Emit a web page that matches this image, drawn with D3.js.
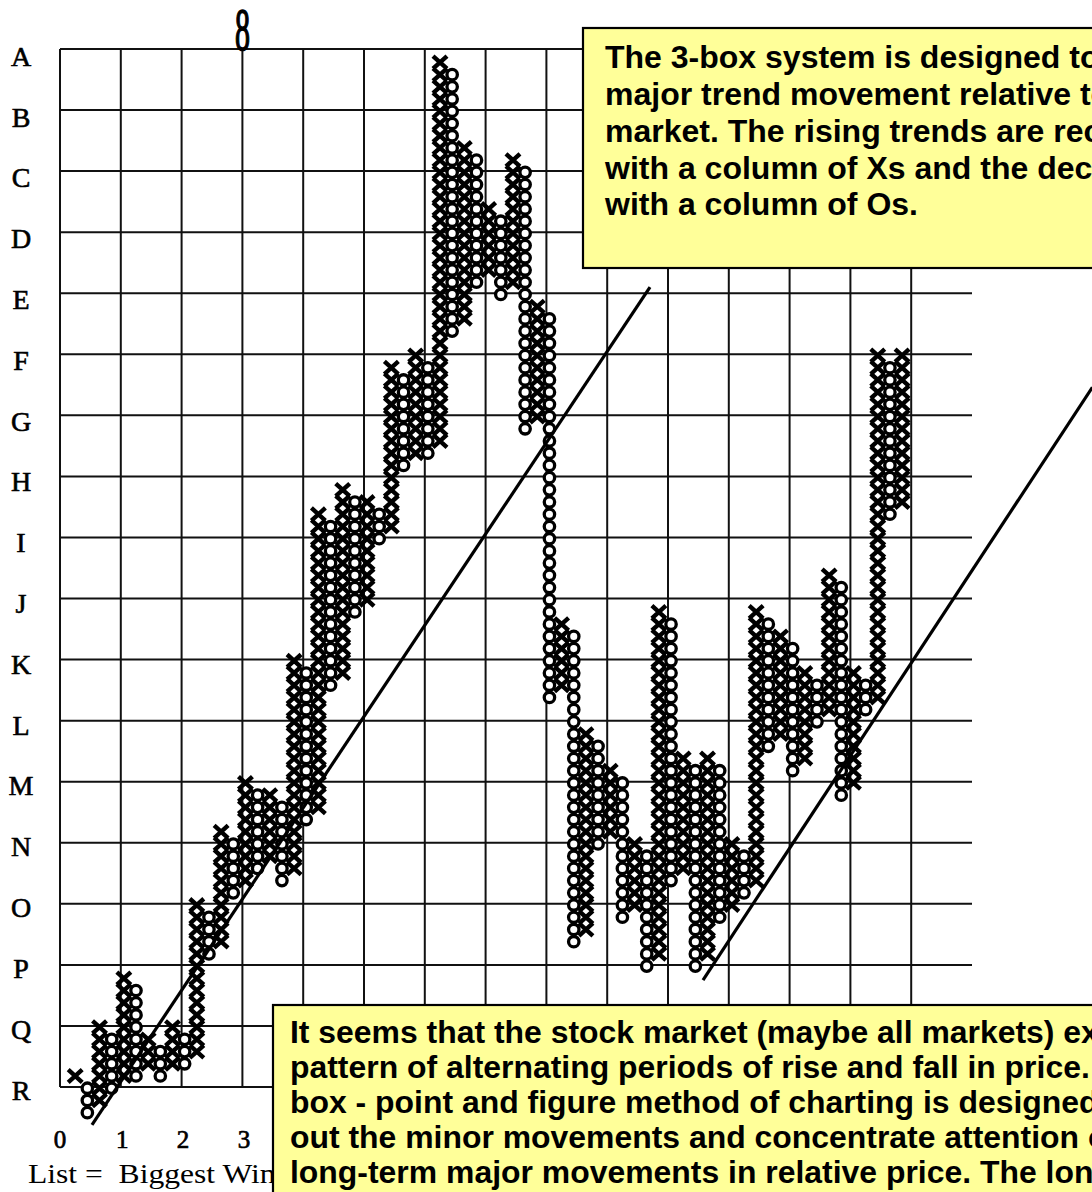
<!DOCTYPE html>
<html><head><meta charset="utf-8">
<script src="https://cdn.jsdelivr.net/npm/d3@7"></script>
<style>body{margin:0;background:#fff}svg{display:block}</style>
</head><body>
<svg id="c" width="1092" height="1192"></svg>
<script>
// ---------- data ----------
const rowLabels = ["A","B","C","D","E","F","G","H","I","J","K","L","M","N","O","P","Q","R"];
const colLabels = ["0","1","2","3"];
const topMark = "8";
const listLabel = "List =  Biggest Winners";
const firstColumn = 1;
const colTypes = ["X","O","X","O","X","O","X","O","X","O","X","O","X","O","X","O","X","O","X","O",
  "X","O","X","O","X","O","X","O","X","O","X","O","X","O","X","O","X","O","X","O",
  "X","O","X","O","X","O","X","O","X","O","X","O","X","O","X","O","X","O","X","O",
  "X","O","X","O","X","O","X","O","X"];
const colTops = [0,-1,4,3,8,7,3,2,4,3,14,13,20,19,24,23,23,22,34,33,
  46,45,48,47,47,46,58,57,59,58,83,82,76,75,71,70,75,74,63,62,
  37,36,28,27,25,24,19,18,38,37,26,25,26,25,19,18,38,37,36,35,
  33,32,41,40,33,32,59,58,59];
const colBottoms = [0,-3,-2,-1,0,0,1,0,1,1,2,10,11,15,16,17,18,16,17,21,
  22,32,33,38,39,44,45,50,51,51,52,61,62,65,66,64,65,53,54,31,
  32,11,12,19,20,13,14,9,10,16,17,9,10,13,14,15,16,27,28,25,
  26,29,30,23,24,30,31,46,47];
// trend lines in (column, box) units
const trendStartCol = [2.63, 52.88];
const trendStartBox = [-3.1, 8.76];
const trendEndCol = [48.52, 84.9];
const trendEndBox = [65.5, 57.3];
const topNote = ["The 3-box system is designed to show the",
  "major trend movement relative to the",
  "market. The rising trends are recorded",
  "with a column of Xs and the declines",
  "with a column of Os."];
const bottomNote = ["It seems that the stock market (maybe all markets) exhibits a",
  "pattern of alternating periods of rise and fall in price. The 3-",
  "box - point and figure method of charting is designed to filter",
  "out the minor movements and concentrate attention on the",
  "long-term major movements in relative price. The long-term",
  "movements are always present at the time the long-term"];

// ---------- scales ----------
const svg = d3.select("#c");
const x = d3.scaleLinear().domain([0, 70]).range([60, 60 + 70 * 12.16]);
const y = d3.scaleLinear().domain([0, 85]).range([1087, 49]);
const labelY = d3.scaleLinear().domain([0, 17]).range([56.2, 1090]);

const columns = colTypes.map((t, j) => ({i: firstColumn + j, type: t, top: colTops[j], bottom: colBottoms[j]}));
const cells = [];
columns.forEach(c => { for (let k = c.bottom; k <= c.top; k++) cells.push({i: c.i, k, type: c.type}); });

// ---------- grid ----------
const grid = svg.append("g").attr("stroke", "#111").attr("stroke-width", 2);
grid.selectAll("line.h").data(rowLabels).join("line").attr("class", "h")
  .attr("x1", x(0)).attr("x2", x(75))
  .attr("y1", (d, j) => y(85 - 5 * j)).attr("y2", (d, j) => y(85 - 5 * j));
grid.selectAll("line.v").data(d3.range(0, 71, 5)).join("line").attr("class", "v")
  .attr("x1", d => x(d)).attr("x2", d => x(d))
  .attr("y1", y(85)).attr("y2", y(0));

// ---------- labels ----------
svg.append("g").selectAll("text").data(rowLabels).join("text")
  .attr("x", 21).attr("y", (d, j) => labelY(j) + 9.5)
  .attr("text-anchor", "middle").attr("font-family", "Liberation Serif")
  .attr("font-size", 28).attr("stroke", "#000").attr("stroke-width", 0.6).text(d => d);

svg.append("g").selectAll("text").data(colLabels).join("text")
  .attr("x", (d, j) => x(5 * j) + (j ? 1.5 : 0)).attr("y", 1148)
  .attr("text-anchor", "middle").attr("font-family", "Liberation Serif")
  .attr("font-size", 25).attr("stroke", "#000").attr("stroke-width", 0.7).text(d => d);

svg.append("text").attr("transform", `translate(${x(15)},49.5) scale(1.2,2.42)`)
  .attr("text-anchor", "middle").attr("font-family", "Liberation Serif")
  .attr("font-size", 25).attr("stroke", "#000").attr("stroke-width", 0.7).text(topMark);

svg.append("text").attr("transform", "translate(28,1183) scale(1.17,1)")
  .attr("font-family", "Liberation Serif").attr("font-size", 27)
  .style("white-space", "pre").text(listLabel);

// ---------- symbols ----------
const sym = svg.append("g");
sym.selectAll("circle").data(cells.filter(c => c.type === "O")).join("circle")
  .attr("cx", d => x(d.i + 0.25)).attr("cy", d => y(d.k + 0.9)).attr("r", 5.2)
  .attr("fill", "#fff").attr("stroke", "#000").attr("stroke-width", 3.3);
sym.selectAll("path").data(cells.filter(c => c.type === "X")).join("path")
  .attr("d", d => {
    const cx = x(d.i + 0.25), cy = y(d.k + 0.9);
    return `M${cx-7},${cy-6.3}L${cx+7},${cy+6.3}M${cx+7},${cy-6.3}L${cx-7},${cy+6.3}`;
  })
  .attr("fill", "none").attr("stroke", "#000").attr("stroke-width", 4.4);

// ---------- trend lines ----------
svg.append("g").selectAll("line").data(trendStartCol).join("line")
  .attr("x1", (d, j) => x(trendStartCol[j])).attr("y1", (d, j) => y(trendStartBox[j]))
  .attr("x2", (d, j) => x(trendEndCol[j])).attr("y2", (d, j) => y(trendEndBox[j]))
  .attr("stroke", "#000").attr("stroke-width", 3.2);

// ---------- notes ----------
function note(bx, by, w, h, lines, tx, ty0, dy, sx) {
  const g = svg.append("g");
  g.append("rect").attr("x", bx).attr("y", by).attr("width", w).attr("height", h)
    .attr("fill", "#ffff99").attr("stroke", "#000").attr("stroke-width", 2.2);
  g.append("g").attr("transform", `translate(${tx},0) scale(${sx},1)`)
    .selectAll("text").data(lines).join("text")
    .attr("x", 0).attr("y", (d, j) => ty0 + j * dy)
    .attr("font-family", "Liberation Sans, Arial, sans-serif").attr("font-weight", "bold")
    .attr("font-size", 31).attr("fill", "#000").text(d => d);
}
note(583, 28, 700, 240, topNote, 605, 68.5, 36.7, 1.033);
note(273, 1005, 1000, 400, bottomNote, 290, 1043, 35, 1.03);
</script>
</body></html>
